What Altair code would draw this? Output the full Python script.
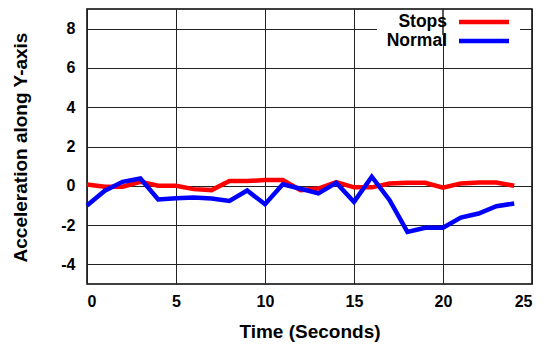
import altair as alt
import pandas as pd

time = list(range(25))
stops = [0.07, -0.05, -0.05, 0.2, 0.0, 0.0, -0.17, -0.22, 0.24, 0.24, 0.29, 0.29, -0.22,
         -0.14, 0.19, -0.08, -0.08, 0.12, 0.15, 0.15, -0.1, 0.12, 0.17, 0.17, 0.0]
normal = [-1.0, -0.25, 0.2, 0.37, -0.7, -0.63, -0.6, -0.65, -0.77, -0.24, -0.94, 0.08, -0.15,
          -0.39, 0.15, -0.82, 0.46, -0.73, -2.35, -2.14, -2.14, -1.62, -1.41, -1.04, -0.9]
series_names = ["Stops", "Normal"]
series_colors = ["#ff0000", "#0000ff"]
x_ticks = [0, 5, 10, 15, 20, 25]
y_ticks = [-4, -2, 0, 2, 4, 6, 8]

rows = []
for name, vals in zip(series_names, [stops, normal]):
    for t, v in zip(time, vals):
        rows.append({"Time": t, "Acc": v, "Series": name})
df = pd.DataFrame(rows)

FONT = "Liberation Sans"
W, H = 445, 275

x_scale = alt.Scale(domain=[0, 25], nice=False, zero=False)
y_scale = alt.Scale(domain=[-5, 9], nice=False, zero=False)

lines = alt.Chart(df).mark_line(strokeWidth=4.5, strokeJoin="miter").encode(
    x=alt.X("Time:Q", scale=x_scale,
            axis=alt.Axis(values=x_ticks, title="Time (Seconds)", grid=True, ticks=False,
                          labelPadding=9, titleY=47, titleBaseline="middle",
                          labelExpr="toString(datum.value)")),
    y=alt.Y("Acc:Q", scale=y_scale,
            axis=alt.Axis(values=y_ticks, title="Acceleration along Y-axis", grid=True,
                          ticks=False, labelPadding=12, titleX=-67, titleY=138,
                          titleAngle=-90, titleBaseline="middle", titleAlign="center",
                          labelExpr="toString(datum.value)")),
    color=alt.Color("Series:N", scale=alt.Scale(domain=series_names, range=series_colors),
                    legend=None),
    detail="Series:N",
)

leg_df = pd.DataFrame({"Series": series_names})

box = alt.Chart(leg_df).mark_rect(color="white").encode(
    x=alt.value(290), x2=alt.value(433), y=alt.value(1), y2=alt.value(26))
vline = alt.Chart(leg_df).mark_rule(color="#222222", strokeWidth=1).encode(
    x=alt.datum(20, scale=x_scale), y=alt.value(0), y2=alt.value(26))

legend_layers = []
for i, (name, col) in enumerate(zip(series_names, series_colors)):
    yy = 13 + 19 * i
    sub = leg_df[leg_df["Series"] == name]
    legend_layers.append(alt.Chart(sub).mark_text(
        align="right", baseline="middle", font=FONT, fontWeight="bold", fontSize=17.5,
        color="black").encode(text="Series:N", x=alt.value(360), y=alt.value(yy)))
    legend_layers.append(alt.Chart(sub).mark_rule(color=col, strokeWidth=4.5).encode(
        x=alt.value(372), x2=alt.value(422), y=alt.value(yy)))

chart = alt.layer(lines, box, vline, *legend_layers).properties(
    width=W, height=H,
    padding={"left": 87, "top": 9, "right": 15, "bottom": 60},
    autosize=alt.AutoSizeParams(type="none"),
).configure_view(stroke="black", strokeWidth=1.5).configure_axis(
    gridColor="#222222", gridWidth=1, gridOpacity=1, domain=False,
    labelFont=FONT, labelFontWeight="bold", labelFontSize=16, labelColor="black",
    titleFont=FONT, titleFontWeight="bold", titleFontSize=19, titleColor="black",
)

chart.save("out.html", embed_options={"renderer": "svg", "actions": False})
